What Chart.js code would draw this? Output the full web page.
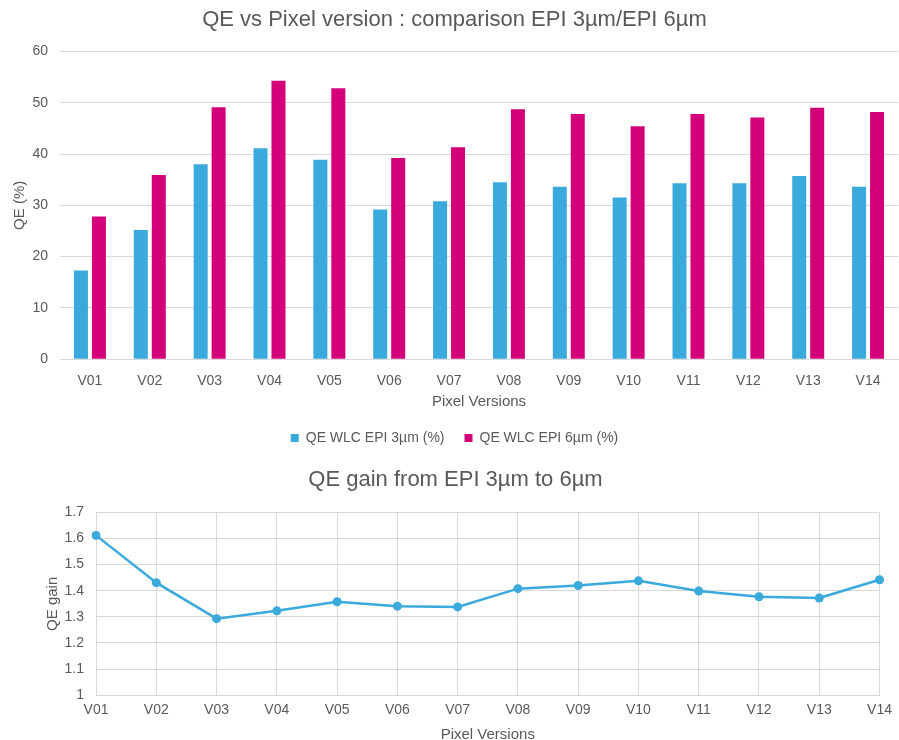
<!DOCTYPE html>
<html>
<head>
<meta charset="utf-8">
<script src="https://cdn.jsdelivr.net/npm/chart.js@4.4.1/dist/chart.umd.min.js"></script>
<style>
  body { margin: 0; background: #fff; width: 899px; height: 740px; position: relative; overflow: hidden; }
  #box1 { position: absolute; left: 11px; top: 0; width: 888px; height: 455px; }
  #box2 { position: absolute; left: 31px; top: 455px; width: 868px; height: 289px; }
</style>
</head>
<body>
<div id="box1"><canvas id="chart1"></canvas></div>
<div id="box2"><canvas id="chart2"></canvas></div>
<script>
// data
const versions = ['V01','V02','V03','V04','V05','V06','V07','V08','V09','V10','V11','V12','V13','V14'];
const qe3um = [17.3, 25.2, 38.0, 41.1, 38.9, 29.2, 30.8, 34.5, 33.6, 31.5, 34.3, 34.3, 35.7, 33.6];
const qe6um = [27.8, 35.9, 49.1, 54.3, 52.8, 39.2, 41.3, 48.7, 47.8, 45.4, 47.8, 47.1, 49.0, 48.2];
const qeGain = [1.612, 1.431, 1.293, 1.323, 1.358, 1.341, 1.338, 1.408, 1.420, 1.438, 1.399, 1.377, 1.372, 1.442];

const blue = '#3aa9db';
const magenta = '#d4007a';
const textCol = '#595959';
const gridCol = '#d9d9d9';
const font = 'Liberation Sans, Arial, sans-serif';

Chart.defaults.font.family = font;
Chart.defaults.color = textCol;
Chart.defaults.animation = false;

///////////////// TOP CHART : bars \\\\\\\\\\\\\\\\\

const config1 = {
  type: 'bar',
  data: {
    labels: versions,
    datasets: [
      { label: 'QE WLC EPI 3µm (%)', data: qe3um, backgroundColor: blue },
      { label: 'QE WLC EPI 6µm (%)', data: qe6um, backgroundColor: magenta }
    ]
  },
  options: {
    responsive: true,
    maintainAspectRatio: false,
    categoryPercentage: 0.6,
    barPercentage: 0.78,
    layout: { padding: { left: 0, right: 1, top: 0, bottom: 0 } },
    plugins: {
      title: {
        display: true,
        text: 'QE vs Pixel version : comparison EPI 3µm/EPI 6µm',
        font: { size: 22, weight: 'normal' },
        color: textCol,
        padding: { top: 7, bottom: 18 }
      },
      legend: {
        position: 'bottom',
        labels: { boxWidth: 8, boxHeight: 8, font: { size: 14 }, color: textCol, padding: 20 }
      },
      tooltip: { enabled: false }
    },
    scales: {
      x: {
        grid: { display: false },
        border: { color: gridCol },
        ticks: { font: { size: 14 }, color: textCol, padding: 6 },
        title: { display: true, text: 'Pixel Versions', font: { size: 15 }, color: textCol, padding: { top: -3, bottom: 0 } }
      },
      y: {
        min: 0,
        max: 60,
        ticks: { stepSize: 10, font: { size: 14 }, color: textCol, padding: 12 },
        grid: { color: gridCol, drawTicks: false },
        border: { display: false },
        title: { display: true, text: 'QE (%)', font: { size: 15 }, color: textCol, padding: 0 },
        afterFit: function (scale) { scale.width = 49; }
      }
    }
  }
};

const myChart1 = new Chart(document.getElementById('chart1'), config1);

///////////////// BOTTOM CHART : gain line \\\\\\\\\\\\\\\\\

const config2 = {
  type: 'line',
  data: {
    labels: versions,
    datasets: [{
      label: 'QE gain',
      data: qeGain,
      borderColor: blue,
      backgroundColor: blue,
      borderWidth: 2.5,
      pointRadius: 4.5,
      pointBackgroundColor: blue,
      pointBorderWidth: 0,
      tension: 0
    }]
  },
  options: {
    responsive: true,
    maintainAspectRatio: false,
    layout: { padding: { left: 0, right: 19, top: 0, bottom: 0 } },
    plugins: {
      title: {
        display: true,
        text: 'QE gain from EPI 3µm to 6µm',
        font: { size: 22, weight: 'normal' },
        color: textCol,
        padding: { top: 12, bottom: 19 }
      },
      legend: { display: false },
      tooltip: { enabled: false }
    },
    scales: {
      x: {
        offset: false,
        grid: { color: gridCol, drawTicks: false },
        border: { color: gridCol },
        ticks: { font: { size: 14 }, color: textCol, padding: 7 },
        title: { display: true, text: 'Pixel Versions', font: { size: 15 }, color: textCol, padding: 0 }
      },
      y: {
        min: 1,
        max: 1.7,
        ticks: {
          stepSize: 0.1, font: { size: 14 }, color: textCol, padding: 12,
          callback: function (value) { return String(Number(value.toFixed(1))); }
        },
        grid: { color: gridCol, drawTicks: false },
        border: { color: gridCol },
        title: { display: true, text: 'QE gain', font: { size: 15 }, color: textCol, padding: { top: 13, bottom: 0 } },
        afterFit: function (scale) { scale.width = 65; }
      }
    }
  }
};

const myChart2 = new Chart(document.getElementById('chart2'), config2);
</script>
</body>
</html>
